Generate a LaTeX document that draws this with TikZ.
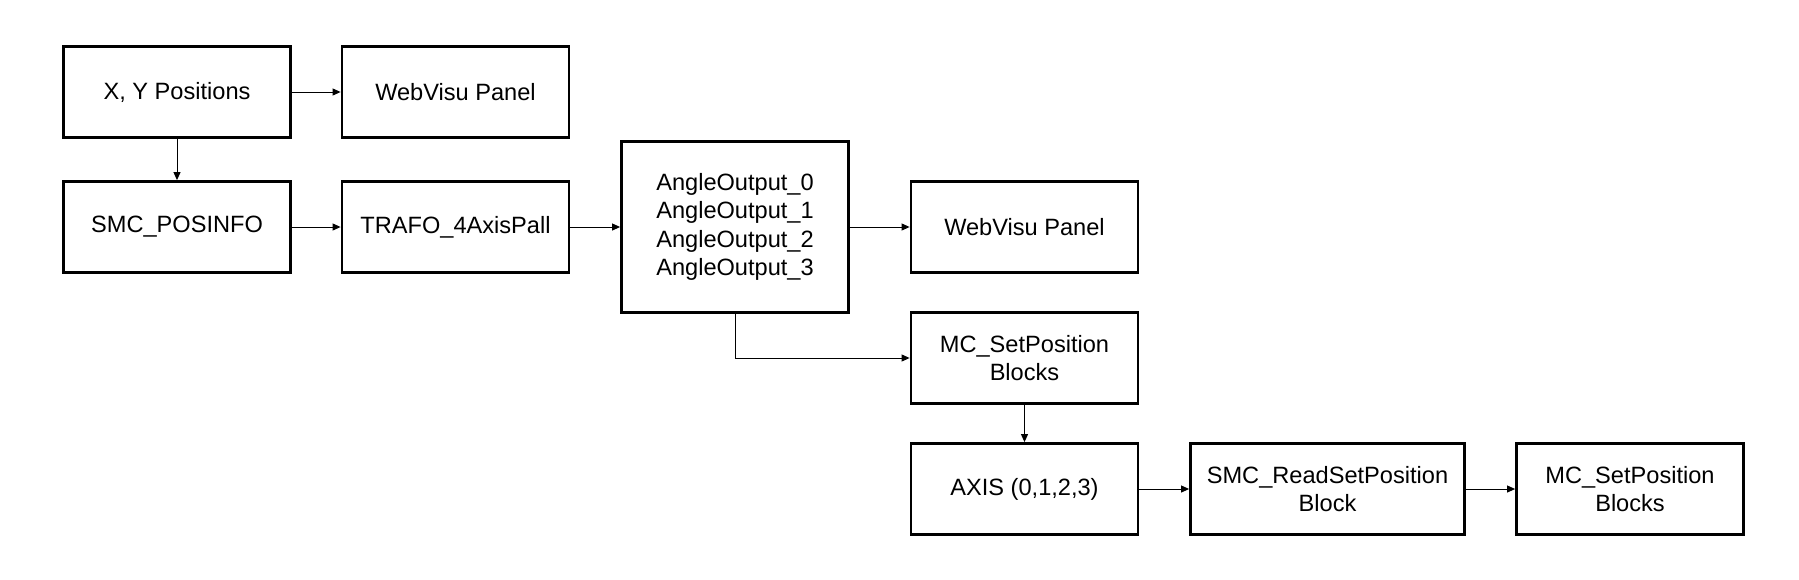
\documentclass[tikz,border=0pt]{standalone}
\usepackage{fontspec}
\setmainfont{Liberation Sans}
\usetikzlibrary{arrows.meta}
\tikzset{
  blk/.style={draw, line width=1.4pt, minimum width=113.5pt, minimum height=45.5pt,
    inner sep=2pt, align=center, font=\fontsize{11.8}{14.2}\selectfont},
  conn/.style={line width=0.5pt, -{Triangle[length=4pt,width=3.5pt]}}
}

\begin{document}
\begin{tikzpicture}[x=0.5pt, y=-0.5pt]
    \useasboundingbox (0,0) rectangle (1799,579);
    % 左边两行
    \node[blk] (xy) at (177,92) {X, Y Positions};
    \node[blk] (web1) at (455.5,92) {WebVisu Panel};
    \node[blk] (posinfo) at (177,227) {SMC\_POSINFO};
    \node[blk] (trafo) at (455.5,227) {TRAFO\_4AxisPall};
    % 角度输出
    \node[blk, minimum height=85.5pt] (angle) at (735,227) {AngleOutput\_0\\AngleOutput\_1\\AngleOutput\_2\\AngleOutput\_3};
    \node[blk] (web2) at (1024.5,227) {WebVisu Panel};
    \node[blk] (mcset1) at (1024.5,358) {MC\_SetPosition\\Blocks};
    % 最下一行
    \node[blk] (axis) at (1024.5,489) {AXIS (0,1,2,3)};
    \node[blk, minimum width=137pt] (readset) at (1327.5,489) {SMC\_ReadSetPosition\\Block};
    \node[blk] (mcset2) at (1630,489) {MC\_SetPosition\\Blocks};
    % 连线
    \draw[conn] (xy) -- (web1);
    \draw[conn] (xy) -- (posinfo);
    \draw[conn] (posinfo) -- (trafo);
    \draw[conn] (trafo) -- (angle);
    \draw[conn] (angle) -- (web2);
    \draw[conn] (angle.south) |- (mcset1);
    \draw[conn] (mcset1) -- (axis);
    \draw[conn] (axis) -- (readset);
    \draw[conn] (readset) -- (mcset2);
\end{tikzpicture}
\end{document}
